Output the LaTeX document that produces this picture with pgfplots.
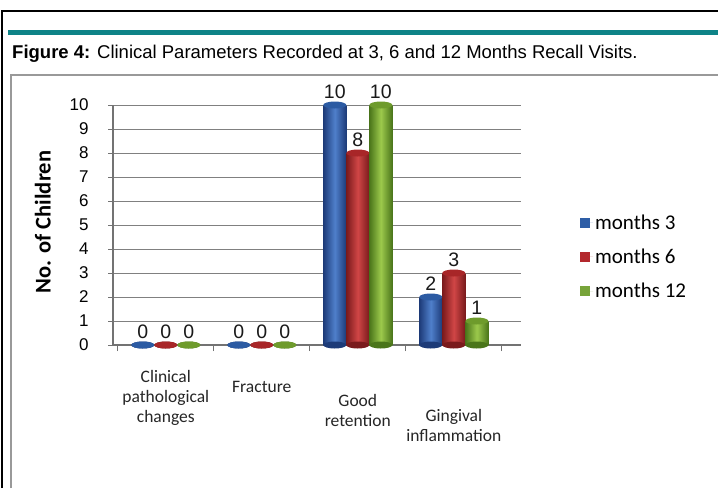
\documentclass[border=0pt]{standalone}
\usepackage{pgfplots}
\pgfplotsset{compat=1.18}
\usepackage{pgfplotstable}
\usepackage{fontspec}
\setmainfont{Liberation Sans}
\newfontfamily\calibri{Carlito}

\definecolor{figteal}{HTML}{0E8387}
\definecolor{bluedk}{HTML}{1D3B78}
\definecolor{bluelt}{HTML}{4F7FCB}
\definecolor{bluecap}{HTML}{2C5BA3}
\definecolor{reddk}{HTML}{7A1A1C}
\definecolor{redlt}{HTML}{D04646}
\definecolor{redcap}{HTML}{A82628}
\definecolor{grndk}{HTML}{4A751A}
\definecolor{grnlt}{HTML}{9CC94C}
\definecolor{grncap}{HTML}{6E9B2C}
\definecolor{legblue}{HTML}{2E5EA6}
\definecolor{legred}{HTML}{B3282D}
\definecolor{leggrn}{HTML}{77A43A}

\pgfdeclareplotmark{cyl}{\pgfpathellipse{\pgfpointorigin}{\pgfqpoint{11.5pt}{0pt}}{\pgfqpoint{0pt}{3.5pt}}\pgfusepathqfill}

\pgfplotstableread{
x v3 v6 v12
0 0 0 0
1 0 0 0
2 10 8 10
3 2 3 1
}\datatable

\pgfplotsset{
  body/.style n args={2}{forget plot, ybar, bar width=23pt, bar shift=0pt, draw=none, left color=#1, right color=#1, middle color=#2},
}

\begin{document}
\begin{tikzpicture}
\fill[white] (0pt,0pt) rectangle (718pt,-488pt);
\draw[black, line width=1.2pt] (2pt,-488pt) -- (2pt,-11pt) -- (718pt,-11pt);
\fill[figteal] (8pt,-30pt) rectangle (718pt,-34.5pt);
\node[anchor=base west, inner sep=0pt, font=\fontsize{18.5}{20}\selectfont] at (12pt,-58pt) {\textbf{Figure 4:} Clinical Parameters Recorded at 3, 6 and 12 Months Recall Visits.};
\draw[gray!80, line width=1.5pt] (11pt,-488pt) -- (11pt,-75pt) -- (718pt,-75pt);

\begin{axis}[
  at={(113pt,-345pt)}, anchor=south west,
  x=96pt, y=24pt,
  xmin=-0.55, xmax=3.7, ymin=0, ymax=10,
  clip=false,
  axis x line*=bottom, axis y line*=left,
  axis line style={black!55, line width=1.1pt},
  /pgf/number format/assume math mode=true,
  ytick={0,1,...,10},
  ymajorgrids,
  grid style={black!50, line width=1pt},
  ytick align=outside, xtick align=outside,
  major tick length=5pt, minor tick length=6pt,
  major y tick style={black!55, line width=1pt},
  major x tick style={draw=none},
  minor x tick style={black!55, line width=1pt},
  yticklabel style={font=\fontsize{17}{17}\selectfont, xshift=-16pt},
  xtick={0,1,2,3},
  minor xtick={-0.5,0.5,1.5,2.5,3.5},
  xticklabels={{Clinical\\pathological\\changes},{\rule{0pt}{22pt}Fracture},{\rule{0pt}{36pt}Good\\retention},{\rule{0pt}{51pt}Gingival\\inflammation}},
  xticklabel style={font=\calibri\fontsize{17.5}{20}\selectfont, align=center, anchor=north, yshift=-17pt, text=black!85},
  ylabel={No. of Children},
  ylabel style={font=\calibri\bfseries\fontsize{22.5}{24}\selectfont, at={(axis description cs:-0.172,0.5125)}, anchor=center},
  legend image code/.code={\fill (0pt,-5pt) rectangle (10pt,5pt); \path (0pt,0pt) -- (13pt,0pt);},
  legend style={at={(axis description cs:1.137,0.56)}, anchor=north west, draw=none, fill=none, font=\calibri\fontsize{21}{23}\selectfont, row sep=14pt},
  legend cell align=left,
  nodes near coords style={font=\fontsize{19.5}{20}\selectfont, anchor=south, yshift=3pt, text=black!90},
]
% bottom ellipses
\addplot[forget plot, only marks, mark=cyl, mark options={fill=bluedk}] table[x expr=\thisrow{x}-0.24, y expr=0]{\datatable};
\addplot[forget plot, only marks, mark=cyl, mark options={fill=reddk}] table[x expr=\thisrow{x}, y expr=0]{\datatable};
\addplot[forget plot, only marks, mark=cyl, mark options={fill=grndk}] table[x expr=\thisrow{x}+0.24, y expr=0]{\datatable};
% months 3
\addplot[body={bluedk}{bluelt}, restrict x to domain=1.5:2.5] table[x expr=\thisrow{x}-0.24, y=v3]{\datatable};
\addplot[body={bluedk}{bluelt}, restrict x to domain=2.5:3.5] table[x expr=\thisrow{x}-0.24, y=v3]{\datatable};
\addplot[forget plot, only marks, mark=cyl, mark options={fill=bluecap}, nodes near coords] table[x expr=\thisrow{x}-0.24, y=v3]{\datatable};
% months 6
\addplot[body={reddk}{redlt}, restrict x to domain=1.5:2.5] table[x expr=\thisrow{x}, y=v6]{\datatable};
\addplot[body={reddk}{redlt}, restrict x to domain=2.5:3.5] table[x expr=\thisrow{x}, y=v6]{\datatable};
\addplot[forget plot, only marks, mark=cyl, mark options={fill=redcap}, nodes near coords] table[x expr=\thisrow{x}, y=v6]{\datatable};
% months 12
\addplot[body={grndk}{grnlt}, restrict x to domain=1.5:2.5] table[x expr=\thisrow{x}+0.24, y=v12]{\datatable};
\addplot[body={grndk}{grnlt}, restrict x to domain=2.5:3.5] table[x expr=\thisrow{x}+0.24, y=v12]{\datatable};
\addplot[forget plot, only marks, mark=cyl, mark options={fill=grncap}, nodes near coords] table[x expr=\thisrow{x}+0.24, y=v12]{\datatable};
\addlegendimage{fill=legblue, draw=none}
\addlegendentry{months 3}
\addlegendimage{fill=legred, draw=none}
\addlegendentry{months 6}
\addlegendimage{fill=leggrn, draw=none}
\addlegendentry{months 12}
\end{axis}
\pgfresetboundingbox
\path (0pt,0pt) rectangle (718pt,-488pt);
\end{tikzpicture}
\end{document}
